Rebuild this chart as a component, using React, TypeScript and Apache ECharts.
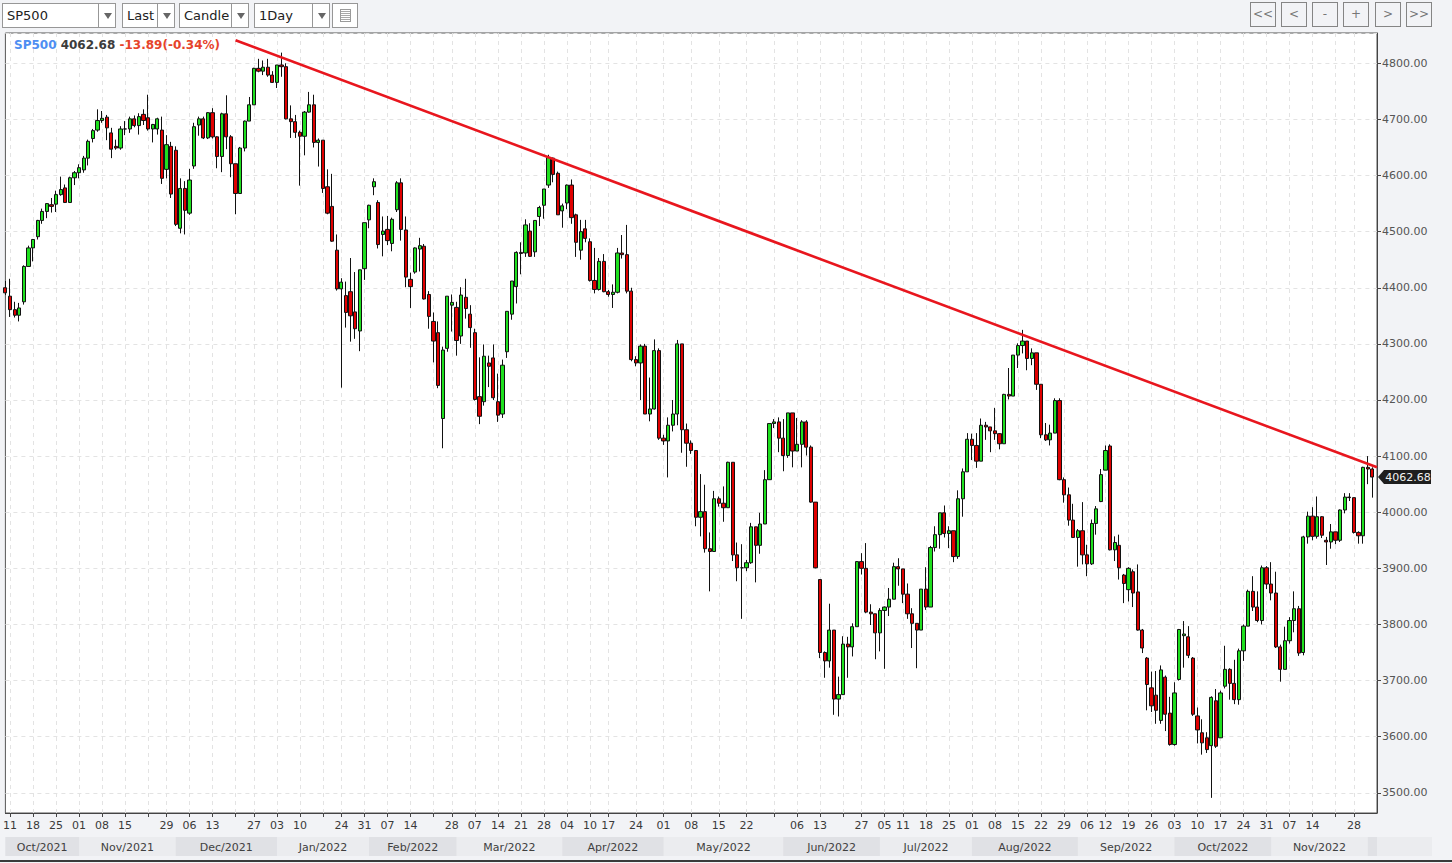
import React, { useEffect, useRef } from "react";
import * as echarts from "echarts";

type Row = [string, number, number, number, number]; // date, open, close, low, high

const oct2021: Row[] = [
  ["2021-10-08", 4400, 4391, 4387, 4412], ["2021-10-11", 4385, 4361, 4348, 4416], ["2021-10-12", 4361, 4351, 4347, 4375],
  ["2021-10-13", 4351, 4364, 4340, 4373], ["2021-10-14", 4375, 4438, 4370, 4440], ["2021-10-15", 4438, 4471, 4438, 4475],
  ["2021-10-18", 4471, 4486, 4447, 4487], ["2021-10-19", 4491, 4520, 4486, 4521], ["2021-10-20", 4520, 4536, 4514, 4541],
  ["2021-10-21", 4536, 4550, 4524, 4551], ["2021-10-22", 4548, 4545, 4534, 4560], ["2021-10-25", 4549, 4566, 4535, 4573],
  ["2021-10-26", 4566, 4575, 4564, 4598], ["2021-10-27", 4578, 4552, 4551, 4584], ["2021-10-28", 4552, 4596, 4551, 4598],
  ["2021-10-29", 4596, 4605, 4583, 4608],
];
const nov2021: Row[] = [
  ["2021-11-01", 4605, 4614, 4595, 4620], ["2021-11-02", 4610, 4631, 4605, 4635], ["2021-11-03", 4631, 4661, 4618, 4664],
  ["2021-11-04", 4666, 4680, 4659, 4683], ["2021-11-05", 4681, 4698, 4678, 4718], ["2021-11-08", 4698, 4702, 4694, 4715],
  ["2021-11-09", 4704, 4685, 4663, 4708], ["2021-11-10", 4676, 4647, 4631, 4685], ["2021-11-11", 4652, 4649, 4646, 4664],
  ["2021-11-12", 4649, 4683, 4646, 4688], ["2021-11-15", 4683, 4683, 4672, 4697], ["2021-11-16", 4683, 4701, 4676, 4705],
  ["2021-11-17", 4701, 4689, 4686, 4707], ["2021-11-18", 4689, 4705, 4673, 4711], ["2021-11-19", 4709, 4698, 4690, 4718],
  ["2021-11-22", 4703, 4683, 4680, 4744], ["2021-11-23", 4683, 4691, 4659, 4692], ["2021-11-24", 4683, 4701, 4673, 4703],
  ["2021-11-26", 4681, 4595, 4585, 4705], ["2021-11-29", 4611, 4655, 4595, 4672], ["2021-11-30", 4652, 4567, 4560, 4660],
];
const dec2021: Row[] = [
  ["2021-12-01", 4645, 4513, 4510, 4652], ["2021-12-02", 4506, 4577, 4497, 4595], ["2021-12-03", 4577, 4538, 4495, 4590],
  ["2021-12-06", 4533, 4592, 4530, 4612], ["2021-12-07", 4617, 4687, 4612, 4694], ["2021-12-08", 4690, 4701, 4671, 4705],
  ["2021-12-09", 4701, 4667, 4665, 4705], ["2021-12-10", 4667, 4712, 4665, 4713], ["2021-12-13", 4712, 4669, 4666, 4720],
  ["2021-12-14", 4669, 4634, 4613, 4670], ["2021-12-15", 4634, 4710, 4606, 4712], ["2021-12-16", 4710, 4669, 4647, 4743],
  ["2021-12-17", 4669, 4621, 4597, 4672], ["2021-12-20", 4621, 4568, 4531, 4621], ["2021-12-21", 4568, 4649, 4568, 4651],
  ["2021-12-22", 4649, 4697, 4643, 4698], ["2021-12-23", 4697, 4726, 4697, 4740], ["2021-12-27", 4726, 4791, 4726, 4792],
  ["2021-12-28", 4791, 4786, 4784, 4808], ["2021-12-29", 4786, 4793, 4779, 4805], ["2021-12-30", 4793, 4779, 4776, 4808],
  ["2021-12-31", 4779, 4766, 4765, 4786],
];
const jan2022: Row[] = [
  ["2022-01-03", 4766, 4797, 4756, 4797], ["2022-01-04", 4797, 4794, 4776, 4819], ["2022-01-05", 4794, 4701, 4700, 4800],
  ["2022-01-06", 4701, 4696, 4667, 4725], ["2022-01-07", 4696, 4677, 4667, 4708], ["2022-01-10", 4677, 4670, 4582, 4680],
  ["2022-01-11", 4670, 4713, 4636, 4715], ["2022-01-12", 4713, 4726, 4712, 4749], ["2022-01-13", 4726, 4659, 4650, 4744],
  ["2022-01-14", 4659, 4663, 4616, 4666], ["2022-01-18", 4663, 4577, 4569, 4663], ["2022-01-19", 4580, 4533, 4531, 4611],
  ["2022-01-20", 4545, 4483, 4482, 4603], ["2022-01-21", 4467, 4398, 4395, 4495], ["2022-01-24", 4398, 4410, 4222, 4417],
  ["2022-01-25", 4386, 4356, 4329, 4411], ["2022-01-26", 4393, 4350, 4304, 4453], ["2022-01-27", 4357, 4327, 4309, 4428],
  ["2022-01-28", 4323, 4432, 4287, 4432], ["2022-01-31", 4434, 4516, 4414, 4516],
];
const feb2022: Row[] = [
  ["2022-02-01", 4521, 4547, 4506, 4548], ["2022-02-02", 4580, 4589, 4565, 4595], ["2022-02-03", 4552, 4477, 4470, 4556],
  ["2022-02-04", 4495, 4501, 4456, 4527], ["2022-02-07", 4504, 4484, 4476, 4528], ["2022-02-08", 4479, 4522, 4465, 4525],
  ["2022-02-09", 4539, 4587, 4535, 4590], ["2022-02-10", 4587, 4504, 4484, 4595], ["2022-02-11", 4503, 4419, 4401, 4527],
  ["2022-02-14", 4415, 4402, 4364, 4427], ["2022-02-15", 4428, 4471, 4425, 4472], ["2022-02-16", 4469, 4475, 4429, 4489],
  ["2022-02-17", 4474, 4380, 4379, 4478], ["2022-02-18", 4388, 4349, 4327, 4394], ["2022-02-22", 4340, 4305, 4267, 4356],
  ["2022-02-23", 4320, 4226, 4221, 4340], ["2022-02-24", 4167, 4289, 4114, 4295], ["2022-02-25", 4292, 4385, 4286, 4385],
  ["2022-02-28", 4369, 4374, 4322, 4388],
];
const mar2022: Row[] = [
  ["2022-03-01", 4365, 4306, 4279, 4375], ["2022-03-02", 4314, 4387, 4300, 4401], ["2022-03-03", 4383, 4363, 4345, 4416],
  ["2022-03-04", 4353, 4329, 4293, 4369], ["2022-03-07", 4320, 4201, 4199, 4327], ["2022-03-08", 4206, 4171, 4157, 4276],
  ["2022-03-09", 4197, 4278, 4190, 4299], ["2022-03-10", 4266, 4260, 4223, 4279], ["2022-03-11", 4275, 4204, 4200, 4299],
  ["2022-03-14", 4197, 4173, 4161, 4247], ["2022-03-15", 4175, 4262, 4168, 4272], ["2022-03-16", 4286, 4358, 4275, 4358],
  ["2022-03-17", 4353, 4412, 4343, 4412], ["2022-03-18", 4402, 4463, 4372, 4465], ["2022-03-21", 4463, 4461, 4424, 4481],
  ["2022-03-22", 4462, 4512, 4455, 4522], ["2022-03-23", 4501, 4456, 4455, 4515], ["2022-03-24", 4464, 4520, 4455, 4520],
  ["2022-03-25", 4527, 4543, 4510, 4546], ["2022-03-28", 4547, 4576, 4523, 4576], ["2022-03-29", 4583, 4632, 4578, 4637],
  ["2022-03-30", 4631, 4602, 4588, 4632], ["2022-03-31", 4604, 4530, 4530, 4607],
];
const apr2022: Row[] = [
  ["2022-04-01", 4537, 4546, 4507, 4550], ["2022-04-04", 4551, 4583, 4540, 4584], ["2022-04-05", 4583, 4525, 4514, 4593],
  ["2022-04-06", 4530, 4481, 4455, 4532], ["2022-04-07", 4467, 4500, 4450, 4521], ["2022-04-08", 4505, 4488, 4481, 4521],
  ["2022-04-11", 4482, 4413, 4411, 4488], ["2022-04-12", 4413, 4397, 4390, 4471], ["2022-04-13", 4397, 4447, 4395, 4453],
  ["2022-04-14", 4447, 4393, 4392, 4460], ["2022-04-17", 4393, 4388, 4384, 4396], ["2022-04-18", 4388, 4392, 4364, 4406],
  ["2022-04-19", 4392, 4462, 4390, 4471], ["2022-04-20", 4462, 4459, 4452, 4494], ["2022-04-21", 4459, 4394, 4390, 4512],
  ["2022-04-22", 4394, 4272, 4269, 4400], ["2022-04-24", 4272, 4266, 4260, 4278], ["2022-04-25", 4266, 4296, 4200, 4299],
  ["2022-04-26", 4296, 4175, 4175, 4300], ["2022-04-27", 4175, 4184, 4162, 4240], ["2022-04-28", 4184, 4288, 4183, 4308],
  ["2022-04-29", 4288, 4132, 4129, 4292],
];
const may2022: Row[] = [
  ["2022-05-01", 4132, 4127, 4120, 4138], ["2022-05-02", 4127, 4155, 4062, 4169], ["2022-05-03", 4155, 4175, 4144, 4200],
  ["2022-05-04", 4175, 4300, 4155, 4307], ["2022-05-05", 4300, 4147, 4106, 4300], ["2022-05-06", 4147, 4123, 4081, 4158],
  ["2022-05-08", 4123, 4110, 4104, 4128], ["2022-05-09", 4110, 3991, 3975, 4110], ["2022-05-10", 3991, 4001, 3957, 4068],
  ["2022-05-11", 4001, 3935, 3928, 4049], ["2022-05-12", 3935, 3930, 3859, 3964], ["2022-05-13", 3930, 4024, 3930, 4038],
  ["2022-05-15", 4024, 4016, 4010, 4028], ["2022-05-16", 4016, 4008, 3983, 4046], ["2022-05-17", 4008, 4089, 4008, 4090],
  ["2022-05-18", 4089, 3924, 3913, 4089], ["2022-05-19", 3924, 3901, 3877, 3946], ["2022-05-20", 3901, 3901, 3810, 3943],
  ["2022-05-22", 3901, 3910, 3895, 3915], ["2022-05-23", 3910, 3974, 3908, 3981], ["2022-05-24", 3974, 3941, 3875, 3974],
  ["2022-05-25", 3941, 3979, 3926, 3999], ["2022-05-26", 3979, 4058, 3979, 4075], ["2022-05-27", 4058, 4158, 4058, 4158],
  ["2022-05-29", 4158, 4161, 4150, 4166], ["2022-05-31", 4161, 4132, 4107, 4169],
];
const jun2022: Row[] = [
  ["2022-06-01", 4132, 4101, 4073, 4166], ["2022-06-02", 4101, 4177, 4097, 4177], ["2022-06-03", 4177, 4109, 4080, 4177],
  ["2022-06-06", 4109, 4121, 4109, 4168], ["2022-06-07", 4121, 4161, 4080, 4164], ["2022-06-08", 4161, 4116, 4101, 4164],
  ["2022-06-09", 4116, 4018, 4017, 4119], ["2022-06-10", 4018, 3901, 3900, 4018], ["2022-06-13", 3880, 3750, 3740, 3880],
  ["2022-06-14", 3750, 3735, 3705, 3752], ["2022-06-15", 3735, 3790, 3723, 3837], ["2022-06-16", 3790, 3667, 3639, 3790],
  ["2022-06-17", 3667, 3675, 3636, 3707], ["2022-06-21", 3675, 3765, 3675, 3779], ["2022-06-22", 3765, 3760, 3705, 3778],
  ["2022-06-23", 3760, 3796, 3743, 3802], ["2022-06-24", 3796, 3912, 3796, 3913], ["2022-06-27", 3912, 3900, 3889, 3927],
  ["2022-06-28", 3900, 3822, 3820, 3945], ["2022-06-29", 3822, 3819, 3799, 3836], ["2022-06-30", 3819, 3785, 3738, 3819],
];
const jul2022: Row[] = [
  ["2022-07-01", 3785, 3825, 3752, 3829], ["2022-07-05", 3825, 3831, 3721, 3832], ["2022-07-06", 3831, 3845, 3815, 3865],
  ["2022-07-07", 3845, 3903, 3845, 3910], ["2022-07-08", 3903, 3899, 3869, 3918], ["2022-07-11", 3899, 3854, 3838, 3899],
  ["2022-07-12", 3854, 3819, 3810, 3873], ["2022-07-13", 3819, 3802, 3758, 3829], ["2022-07-14", 3802, 3790, 3722, 3802],
  ["2022-07-15", 3790, 3863, 3790, 3863], ["2022-07-18", 3863, 3831, 3826, 3902], ["2022-07-19", 3831, 3937, 3831, 3940],
  ["2022-07-20", 3937, 3960, 3930, 3975], ["2022-07-21", 3960, 3999, 3935, 3999], ["2022-07-22", 3999, 3962, 3955, 4012],
  ["2022-07-25", 3962, 3967, 3936, 3975], ["2022-07-26", 3967, 3921, 3911, 3967], ["2022-07-27", 3921, 4024, 3917, 4039],
  ["2022-07-28", 4024, 4072, 3992, 4078], ["2022-07-29", 4072, 4130, 4072, 4141],
];
const aug2022: Row[] = [
  ["2022-08-01", 4130, 4119, 4093, 4140], ["2022-08-02", 4119, 4091, 4079, 4141], ["2022-08-03", 4091, 4155, 4091, 4167],
  ["2022-08-04", 4155, 4152, 4129, 4161], ["2022-08-05", 4152, 4145, 4107, 4152], ["2022-08-08", 4145, 4140, 4129, 4186],
  ["2022-08-09", 4140, 4122, 4112, 4141], ["2022-08-10", 4122, 4210, 4122, 4211], ["2022-08-11", 4210, 4207, 4201, 4257],
  ["2022-08-12", 4207, 4280, 4207, 4280], ["2022-08-15", 4280, 4297, 4257, 4301], ["2022-08-16", 4297, 4305, 4283, 4325],
  ["2022-08-17", 4305, 4274, 4253, 4305], ["2022-08-18", 4274, 4284, 4262, 4292], ["2022-08-19", 4284, 4228, 4218, 4284],
  ["2022-08-22", 4228, 4138, 4132, 4228], ["2022-08-23", 4138, 4129, 4127, 4159], ["2022-08-24", 4129, 4141, 4119, 4156],
  ["2022-08-25", 4141, 4199, 4141, 4203], ["2022-08-26", 4199, 4058, 4057, 4203], ["2022-08-29", 4058, 4031, 4017, 4062],
  ["2022-08-30", 4031, 3986, 3976, 4044], ["2022-08-31", 3986, 3955, 3954, 4015],
];
const sep2022: Row[] = [
  ["2022-09-01", 3955, 3967, 3903, 3970], ["2022-09-02", 3967, 3924, 3907, 4018], ["2022-09-06", 3924, 3908, 3886, 3942],
  ["2022-09-07", 3908, 3980, 3906, 3987], ["2022-09-08", 3980, 4006, 3960, 4011], ["2022-09-09", 4019, 4067, 4018, 4077],
  ["2022-09-12", 4075, 4110, 4075, 4119], ["2022-09-13", 4118, 3933, 3932, 4121], ["2022-09-14", 3933, 3946, 3913, 3957],
  ["2022-09-15", 3941, 3901, 3880, 3960], ["2022-09-16", 3888, 3873, 3838, 3890], ["2022-09-19", 3862, 3900, 3841, 3902],
  ["2022-09-20", 3894, 3856, 3831, 3898], ["2022-09-21", 3858, 3790, 3789, 3907], ["2022-09-22", 3790, 3758, 3749, 3792],
  ["2022-09-23", 3740, 3693, 3647, 3742], ["2022-09-26", 3687, 3655, 3644, 3716], ["2022-09-27", 3674, 3647, 3623, 3717],
  ["2022-09-28", 3629, 3719, 3623, 3727], ["2022-09-29", 3706, 3640, 3610, 3709], ["2022-09-30", 3642, 3586, 3584, 3671],
];
const oct2022: Row[] = [
  ["2022-10-03", 3586, 3678, 3584, 3697], ["2022-10-04", 3702, 3791, 3700, 3792], ["2022-10-05", 3780, 3783, 3723, 3806],
  ["2022-10-06", 3778, 3745, 3740, 3797], ["2022-10-07", 3740, 3640, 3637, 3742], ["2022-10-10", 3637, 3612, 3588, 3652],
  ["2022-10-11", 3607, 3589, 3568, 3631], ["2022-10-12", 3598, 3577, 3571, 3608], ["2022-10-13", 3584, 3670, 3491, 3672],
  ["2022-10-14", 3664, 3583, 3580, 3685], ["2022-10-17", 3598, 3678, 3598, 3682], ["2022-10-18", 3690, 3720, 3686, 3762],
  ["2022-10-19", 3720, 3695, 3666, 3722], ["2022-10-20", 3695, 3666, 3658, 3737], ["2022-10-21", 3666, 3753, 3657, 3757],
  ["2022-10-24", 3753, 3797, 3735, 3800], ["2022-10-25", 3797, 3859, 3797, 3862], ["2022-10-26", 3859, 3831, 3824, 3886],
  ["2022-10-27", 3831, 3807, 3804, 3859], ["2022-10-28", 3807, 3901, 3800, 3905], ["2022-10-31", 3901, 3872, 3863, 3904],
];
const nov2022: Row[] = [
  ["2022-11-01", 3872, 3856, 3843, 3911], ["2022-11-02", 3856, 3760, 3758, 3894], ["2022-11-03", 3760, 3720, 3698, 3764],
  ["2022-11-04", 3720, 3771, 3720, 3796], ["2022-11-07", 3771, 3807, 3766, 3813], ["2022-11-08", 3807, 3828, 3786, 3859],
  ["2022-11-09", 3828, 3749, 3744, 3833], ["2022-11-10", 3750, 3956, 3745, 3958], ["2022-11-11", 3956, 3993, 3944, 4001],
  ["2022-11-14", 3993, 3957, 3950, 4009], ["2022-11-15", 3957, 3992, 3953, 4028], ["2022-11-16", 3992, 3959, 3954, 3993],
  ["2022-11-17", 3950, 3947, 3906, 3956], ["2022-11-18", 3947, 3965, 3935, 3979], ["2022-11-21", 3965, 3950, 3943, 3965],
  ["2022-11-22", 3950, 4004, 3947, 4005], ["2022-11-23", 4004, 4027, 3998, 4034], ["2022-11-25", 4027, 4026, 4020, 4034],
  ["2022-11-28", 4026, 3964, 3962, 4026], ["2022-11-29", 3964, 3958, 3944, 3966], ["2022-11-30", 3958, 4080, 3944, 4081],
];
const dec2022: Row[] = [
  ["2022-12-01", 4080, 4077, 4050, 4100], ["2022-12-02", 4077, 4062.68, 4026, 4080],
];

const months: Row[][] = [oct2021, nov2021, dec2021, jan2022, feb2022, mar2022, apr2022, may2022, jun2022, jul2022, aug2022, sep2022, oct2022, nov2022, dec2022];
const padCategory = "2022-12-05";

// first bar of each week, with the label shown under it ("" = no label)
const weekTicks: [string, string][] = [
  ["2021-10-11", "11"], ["2021-10-18", "18"], ["2021-10-25", "25"], ["2021-11-01", "01"], ["2021-11-08", "08"], ["2021-11-15", "15"],
  ["2021-11-22", ""], ["2021-11-29", "29"], ["2021-12-06", "06"], ["2021-12-13", "13"], ["2021-12-20", ""], ["2021-12-27", "27"],
  ["2022-01-03", "03"], ["2022-01-10", "10"], ["2022-01-18", ""], ["2022-01-24", "24"], ["2022-01-31", "31"], ["2022-02-07", "07"],
  ["2022-02-14", "14"], ["2022-02-22", ""], ["2022-02-28", "28"], ["2022-03-07", "07"], ["2022-03-14", "14"], ["2022-03-21", "21"],
  ["2022-03-28", "28"], ["2022-04-04", "04"], ["2022-04-11", "10"], ["2022-04-17", "17"], ["2022-04-24", "24"], ["2022-05-01", "01"],
  ["2022-05-08", "08"], ["2022-05-15", "15"], ["2022-05-22", "22"], ["2022-05-29", ""], ["2022-06-06", "06"], ["2022-06-13", "13"],
  ["2022-06-21", ""], ["2022-06-27", "27"], ["2022-07-05", "05"], ["2022-07-11", "11"], ["2022-07-18", "18"], ["2022-07-25", "25"],
  ["2022-08-01", "01"], ["2022-08-08", "08"], ["2022-08-15", "15"], ["2022-08-22", "22"], ["2022-08-29", "29"], ["2022-09-06", "06"],
  ["2022-09-12", "12"], ["2022-09-19", "19"], ["2022-09-26", "26"], ["2022-10-03", "03"], ["2022-10-10", "10"], ["2022-10-17", "17"],
  ["2022-10-24", "24"], ["2022-10-31", "31"], ["2022-11-07", "07"], ["2022-11-14", "14"], ["2022-11-21", ""], ["2022-11-28", "28"],
];
const monthNames = ["Jan", "Feb", "Mar", "Apr", "May", "Jun", "Jul", "Aug", "Sep", "Oct", "Nov", "Dec"];

const symbol = "SP500";
const lastPrice = 4062.68;
const change = -13.89;
const changePct = -0.34;
const trendStart: [string, number] = ["2021-12-20", 4841];
const trendEnd: [string, number] = ["2022-12-05", 4080];
const yMin = 3464;
const yMax = 4854;

const UP = "#1fe01f";
const DOWN = "#e00000";
const FONT = "'DejaVu Sans', Verdana, sans-serif";

function Select(props: { left: number; width: number; divider: number; text: string }) {
  const { left, width, divider, text } = props;
  return (
    <div style={{ position: "absolute", left, top: 3, width, height: 25, boxSizing: "border-box", border: "1px solid #979797", background: "#fff" }}>
      <span style={{ position: "absolute", left: 4, top: 0, fontFamily: FONT, fontSize: 13, lineHeight: "23px", color: "#222" }}>{text}</span>
      <div style={{ position: "absolute", left: divider, top: 0, width: width - divider - 2, height: 23, borderLeft: "1px solid #979797" }}>
        <div style={{ position: "absolute", left: "50%", top: 9, marginLeft: -4, width: 0, height: 0, borderLeft: "4px solid transparent", borderRight: "4px solid transparent", borderTop: "6px solid #666" }} />
      </div>
    </div>
  );
}

function NavButton(props: { left: number; text: string }) {
  return (
    <div style={{ position: "absolute", left: props.left, top: 2, width: 26, height: 25, boxSizing: "border-box", border: "1px solid #858585", fontFamily: FONT, fontSize: 12, color: "#777", textAlign: "center", lineHeight: "23px" }}>
      {props.text}
    </div>
  );
}

export default function App() {
  const ref = useRef<HTMLDivElement>(null);

  useEffect(() => {
    if (!ref.current) return;
    const chart = echarts.init(ref.current, null, { renderer: "svg" });
    const rows: Row[] = months.flat();
    const categories = rows.map((r) => r[0]).concat([padCategory]);
    const ohlc = rows.map((r) => [r[1], r[2], r[3], r[4]]);
    const idxOf = new Map<string, number>();
    categories.forEach((c, i) => idxOf.set(c, i));
    const weekIdx = new Set<number>(weekTicks.map((w) => idxOf.get(w[0]) as number));
    const labelIdx = new Set<number>(weekTicks.filter((w) => w[1] !== "").map((w) => idxOf.get(w[0]) as number));
    const labelText = new Map<string, string>(weekTicks.map((w) => [w[0], w[1]]));

    const sign = change >= 0 ? "+" : "";
    chart.setOption({
      animation: false,
      backgroundColor: "transparent",
      title: {
        left: 14,
        top: 39,
        padding: 0,
        text: `{a|${symbol}} {b|${lastPrice.toFixed(2)}} {c|${sign}${change.toFixed(2)}(${sign}${changePct.toFixed(2)}%)}`,
        textStyle: {
          fontFamily: FONT,
          fontSize: 12,
          fontWeight: "bold",
          rich: {
            a: { color: "#4e8ef2", fontFamily: FONT, fontSize: 12, fontWeight: "bold" },
            b: { color: "#3c3c3c", fontFamily: FONT, fontSize: 12, fontWeight: "bold" },
            c: { color: "#e6432a", fontFamily: FONT, fontSize: 12, fontWeight: "bold" },
          },
        },
      },
      grid: { left: 3, right: 75, top: 33, bottom: 50, show: true, backgroundColor: "#ffffff", borderColor: "#555", borderWidth: 1 },
      xAxis: {
        type: "category",
        data: categories,
        boundaryGap: false,
        axisLine: { show: true, lineStyle: { color: "#444", width: 1 } },
        axisTick: { show: true, interval: (i: number) => weekIdx.has(i), length: 4, lineStyle: { color: "#444" } },
        axisLabel: {
          interval: (i: number) => labelIdx.has(i),
          formatter: (v: string) => labelText.get(v) || "",
          fontFamily: FONT,
          fontSize: 11,
          color: "#3a3a3a",
          margin: 7,
        },
        splitLine: { show: true, interval: (i: number) => weekIdx.has(i), lineStyle: { color: "#e3e3e3", type: [4, 4] } },
      },
      yAxis: {
        type: "value",
        position: "right",
        min: yMin,
        max: yMax,
        splitNumber: 14,
        minInterval: 100,
        maxInterval: 100,
        scale: true,
        axisLine: { show: true, lineStyle: { color: "#444" } },
        axisTick: { show: true, inside: false, length: 4, lineStyle: { color: "#444" } },
        axisLabel: {
          showMinLabel: false,
          showMaxLabel: false,
          formatter: (v: number) => v.toFixed(2),
          fontFamily: FONT,
          fontSize: 11,
          color: "#555",
          margin: 5,
        },
        splitLine: { show: true, lineStyle: { color: "#e3e3e3", type: [4, 4] } },
      },
      series: [
        {
          type: "candlestick",
          data: ohlc,
          barWidth: 3.7,
          itemStyle: { color: UP, color0: DOWN, borderColor: "#111", borderColor0: "#111", borderWidth: 1 },
          markLine: {
            silent: true,
            symbol: ["none", "none"],
            label: { show: false },
            lineStyle: { color: "#e8161e", width: 2.6, type: "solid" },
            data: [[{ coord: trendStart }, { coord: trendEnd }]],
          },
        },
      ],
    });

    // month bands and last price tag, placed through the chart's own scales
    const px = (cat: string) => chart.convertToPixel({ xAxisIndex: 0 }, cat) as number;
    const firstOfMonth: string[] = months.map((m) => m[0][0]);
    const xStart = px(categories[0]);
    const xEnd = px(padCategory);
    const bandTop = 837;
    const bandH = 19;
    const graphic: any[] = [
      { type: "rect", silent: true, shape: { x: xStart, y: bandTop, width: chart.getWidth() - 20 - xStart, height: bandH }, style: { fill: "#ebecef" } },
    ];
    firstOfMonth.forEach((d, i) => {
      const x0 = px(d);
      const x1 = i + 1 < firstOfMonth.length ? px(firstOfMonth[i + 1]) : xEnd;
      if (i % 2 === 0) {
        graphic.push({ type: "rect", silent: true, shape: { x: x0, y: bandTop, width: x1 - x0, height: bandH }, style: { fill: "#e0e1e5" } });
      }
      if (x1 - x0 > 60) {
        const [yy, mm] = d.split("-");
        graphic.push({
          type: "text",
          silent: true,
          x: (x0 + x1) / 2,
          y: bandTop + bandH / 2 + 0.5,
          style: { text: `${monthNames[parseInt(mm, 10) - 1]}/${yy}`, fill: "#404040", font: `11px ${FONT}`, textAlign: "center", textVerticalAlign: "middle", align: "center", verticalAlign: "middle" },
        });
      }
    });
    const yp = chart.convertToPixel({ yAxisIndex: 0 }, lastPrice) as number;
    const tx = xEnd + 1;
    graphic.push({
      type: "polygon",
      silent: true,
      shape: { points: [[tx, yp], [tx + 6, yp - 7], [tx + 53, yp - 7], [tx + 53, yp + 7], [tx + 6, yp + 7]] },
      style: { fill: "#1e1e1e" },
    });
    graphic.push({
      type: "text",
      silent: true,
      x: tx + 30,
      y: yp + 0.5,
      style: { text: lastPrice.toFixed(2), fill: "#f2f2f2", font: `11px ${FONT}`, textAlign: "center", textVerticalAlign: "middle", align: "center", verticalAlign: "middle" },
    });
    chart.setOption({ graphic });

    return () => chart.dispose();
  }, []);

  return (
    <div style={{ position: "fixed", left: 0, top: 0, width: 1452, height: 863, background: "#f2f3f6", overflow: "hidden" }}>
      <div ref={ref} style={{ position: "absolute", left: 0, top: 0, width: 1452, height: 863 }} />
      <Select left={2} width={114} divider={95} text="SP500" />
      <Select left={122} width={53} divider={34} text="Last" />
      <Select left={179} width={70} divider={51} text="Candle" />
      <Select left={254} width={76} divider={57} text="1Day" />
      <div style={{ position: "absolute", left: 332, top: 3, width: 26, height: 25, boxSizing: "border-box", border: "1px solid #979797", background: "#fff" }}>
        <div style={{ position: "absolute", left: 7, top: 5, width: 9, height: 11, border: "1px solid #9a9a9a", background: "repeating-linear-gradient(#fff 0px, #fff 1px, #a8a8a8 1px, #a8a8a8 2px)" }} />
      </div>
      <NavButton left={1250} text="<<" />
      <NavButton left={1281} text="<" />
      <NavButton left={1312} text="-" />
      <NavButton left={1343} text="+" />
      <NavButton left={1375} text=">" />
      <NavButton left={1406} text=">>" />
      <div style={{ position: "absolute", left: 0, top: 860, width: 1452, height: 2, background: "#3a3a3a" }} />
    </div>
  );
}
